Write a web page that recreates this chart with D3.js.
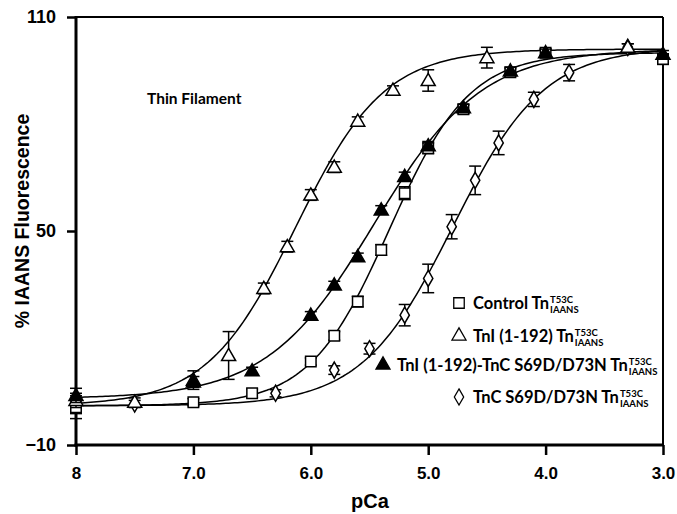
<!DOCTYPE html>
<html><head><meta charset="utf-8">
<script src="https://cdn.jsdelivr.net/npm/d3@7"></script>
<style>body{margin:0;background:#fff}svg{display:block}</style>
</head><body>
<svg id="c" width="677" height="514"></svg>
<script>
// ---- data ----
const xTicks = [8, 7, 6, 5, 4, 3];
const xTickLabels = ["8", "7.0", "6.0", "5.0", "4.0", "3.0"];
const yTicks = [110, 50, -10];

const sqPCa = [8.0, 7.0, 6.5, 6.0, 5.8, 5.6, 5.4, 5.2, 5.0, 4.7, 4.3, 4.0, 3.0];
const sqVal = [0.6, 2.0, 4.5, 13.4, 20.6, 30.2, 44.7, 60.6, 73.2, 84.1, 94.5, 100.0, 98.2];
const sqErr = [3.2, 1.0, 1.2, 1.0, 1.2, 1.5, 1.5, 1.8, 1.5, 1.2, 1.0, 1.0, 1.5];

const otPCa = [8.0, 7.5, 7.0, 6.7, 6.4, 6.2, 6.0, 5.8, 5.6, 5.3, 5.0, 4.5, 3.3];
const otVal = [2.5, 2.0, 8.2, 15.1, 33.9, 45.6, 60.1, 67.9, 80.8, 89.5, 92.2, 98.6, 101.5];
const otErr = [2.0, 1.2, 2.6, 6.7, 1.5, 1.5, 1.5, 1.5, 1.2, 1.2, 3.0, 2.9, 1.0];

const ftPCa = [8.0, 7.0, 6.5, 6.0, 5.8, 5.6, 5.4, 5.2, 5.0, 4.7, 4.3, 4.0, 3.0];
const ftVal = [3.9, 7.7, 10.8, 26.4, 34.9, 42.8, 55.9, 65.3, 73.9, 84.6, 94.9, 100.0, 99.6];
const ftErr = [2.0, 1.5, 1.0, 1.0, 1.0, 1.0, 1.2, 1.2, 1.2, 1.0, 1.0, 1.0, 1.0];

const dmPCa = [8.0, 7.5, 6.3, 5.8, 5.5, 5.2, 5.0, 4.8, 4.6, 4.4, 4.1, 3.8, 3.3];
const dmVal = [0.8, 1.5, 4.5, 11.0, 17.0, 26.4, 36.7, 51.2, 64.2, 74.7, 86.9, 94.4, 101.5];
const dmErr = [2.0, 1.0, 1.0, 1.2, 1.5, 3.0, 4.0, 3.4, 4.0, 3.3, 2.0, 2.3, 1.0];

// Hill fit parameters: square, open tri, filled tri, diamond
const fitBottom = [1, 1, 3, 1];
const fitTop = [100, 101, 101, 101.5];
const fitPCa50 = [5.33, 6.13, 5.46, 4.79];
const fitHill = [1.28, 1.15, 0.95, 1.12];

// ---- chart ----
const svg = d3.select("#c");
const L = 76, R = 663, T = 17, B = 445;
const x = d3.scaleLinear().domain([8, 3]).range([L, R]);
const y = d3.scaleLinear().domain([-10, 110]).range([B, T]);

// frame
svg.append("line").attr("x1", L).attr("x2", R).attr("y1", T).attr("y2", T).attr("stroke", "#000").attr("stroke-width", 2);
svg.append("line").attr("x1", R).attr("x2", R).attr("y1", T).attr("y2", B).attr("stroke", "#000").attr("stroke-width", 2);

// axes
const xAxis = d3.axisBottom(x).tickValues(xTicks).tickFormat((d, i) => xTickLabels[i]).tickSize(10).tickPadding(12);
const gx = svg.append("g").attr("transform", `translate(0,${B})`).call(xAxis);
gx.select(".domain").attr("stroke-width", 3).attr("d", `M${L - 1.5},0H${R + 1}`);
gx.selectAll(".tick line").attr("stroke-width", 2.5);
gx.selectAll("text").attr("font-family", "Liberation Sans, Arial, sans-serif").attr("font-weight", "bold").attr("font-size", 17).attr("fill", "#000");

const yAxis = d3.axisLeft(y).tickValues(yTicks).tickFormat(d3.format("d")).tickSize(9).tickPadding(11);
const gy = svg.append("g").attr("transform", `translate(${L},0)`).call(yAxis);
gy.select(".domain").attr("stroke-width", 3).attr("d", `M0,${T - 1}V${B + 1.5}`);
gy.selectAll(".tick line").attr("stroke-width", 2.5);
gy.selectAll("text").attr("font-family", "Liberation Sans, Arial, sans-serif").attr("font-weight", "bold").attr("font-size", 18).attr("fill", "#000");

// axis titles
svg.append("text").attr("x", 370).attr("y", 508).attr("text-anchor", "middle")
  .attr("font-family", "Liberation Sans, Arial, sans-serif").attr("font-weight", "bold").attr("font-size", 20).text("pCa");
svg.append("text").attr("transform", "translate(29,221) rotate(-90)").attr("text-anchor", "middle")
  .attr("font-family", "Liberation Sans, Arial, sans-serif").attr("font-weight", "bold").attr("font-size", 19.5).text("% IAANS Fluorescence");

svg.append("text").attr("x", 147).attr("y", 104)
  .attr("font-family", "Lato, sans-serif").attr("font-weight", "bold").attr("font-size", 15.5).text("Thin Filament");

// fitted curves
const xs = d3.range(0, 201).map(i => 8 - i * 5 / 200);
const line = d3.line().x(d => x(d[0])).y(d => y(d[1]));
for (let k = 0; k < 4; k++) {
  const pts = xs.map(p => [p, fitBottom[k] + (fitTop[k] - fitBottom[k]) / (1 + Math.pow(10, fitHill[k] * (p - fitPCa50[k])))]);
  svg.append("path").attr("d", line(pts)).attr("fill", "none").attr("stroke", "#000").attr("stroke-width", 1.5);
}

// markers
const symSq = d3.symbol().type(d3.symbolSquare).size(110);
const symTri = d3.symbol().type(d3.symbolTriangle).size(85);
const symDm = d3.symbol().type(d3.symbolDiamond).size(75);

function series(pc, val, err, sym, fill, dy) {
  const g = svg.append("g");
  pc.forEach((p, i) => {
    const cx = x(p), cy = y(val[i]);
    const y1 = y(val[i] + err[i]), y2 = y(val[i] - err[i]);
    g.append("line").attr("x1", cx).attr("x2", cx).attr("y1", y1).attr("y2", y2).attr("stroke", "#000").attr("stroke-width", 1.5);
    g.append("line").attr("x1", cx - 6).attr("x2", cx + 6).attr("y1", y1).attr("y2", y1).attr("stroke", "#000").attr("stroke-width", 1.5);
    g.append("line").attr("x1", cx - 6).attr("x2", cx + 6).attr("y1", y2).attr("y2", y2).attr("stroke", "#000").attr("stroke-width", 1.5);
    g.append("path").attr("d", sym()).attr("transform", `translate(${cx},${cy + dy})`)
      .attr("fill", fill).attr("stroke", "#000").attr("stroke-width", 1.5);
  });
}
series(dmPCa, dmVal, dmErr, symDm, "#fff", 0);
series(sqPCa, sqVal, sqErr, symSq, "#fff", 0);
series(otPCa, otVal, otErr, symTri, "#fff", 1);
series(ftPCa, ftVal, ftErr, symTri, "#000", 1);

// legend
const legNames = ["Control Tn", "TnI (1-192) Tn", "TnI (1-192)-TnC S69D/D73N Tn", "TnC S69D/D73N Tn"];
const legSym = [symSq, symTri, symTri, symDm];
const legFill = ["#fff", "#fff", "#000", "#fff"];
const legX = [473, 473, 397, 473];
const legY = [309, 342, 371, 403];
const lg = svg.append("g");
legNames.forEach((nm, i) => {
  lg.append("path").attr("d", legSym[i]()).attr("transform", `translate(${legX[i] - 14},${legY[i] - 6})`)
    .attr("fill", legFill[i]).attr("stroke", "#000").attr("stroke-width", 1.3);
  const t = lg.append("text").attr("x", legX[i]).attr("y", legY[i])
    .attr("font-family", "Lato, sans-serif").attr("font-weight", "bold").attr("font-size", 16.5).text(nm);
  const w = t.node().getComputedTextLength();
  lg.append("text").attr("x", legX[i] + w + 1).attr("y", legY[i] - 6)
    .attr("font-family", "Lato, sans-serif").attr("font-weight", "bold").attr("font-size", 9.5).text("T53C");
  lg.append("text").attr("x", legX[i] + w + 1).attr("y", legY[i] + 4)
    .attr("font-family", "Lato, sans-serif").attr("font-weight", "bold").attr("font-size", 9.5).text("IAANS");
});
</script>
</body></html>
